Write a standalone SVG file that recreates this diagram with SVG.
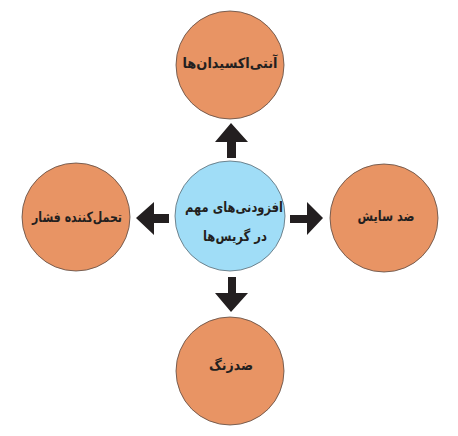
<svg xmlns="http://www.w3.org/2000/svg" width="458" height="436" viewBox="0 0 458 436">
<style>
.o{fill:#E89464;stroke:#5a4a42;stroke-width:0.8}
.b{fill:#A0DDF7;stroke:#5a6a72;stroke-width:0.8}
text{font-family:"DejaVu Sans","Noto Sans",sans-serif;font-weight:bold;font-size:14px;fill:#231f20;text-anchor:middle;direction:rtl}
.a{fill:#231f20}
</style>
<rect width="458" height="436" fill="#fff"/>
<g id="connectors">
<polygon class="a" points="231,123 248,142 236,142 236,158 227,158 227,142 215,142"/>
<polygon class="a" points="136,218 154,202 154,214 169,214 169,223 154,223 154,235"/>
<polygon class="a" points="323,218 307,202 307,215 290,215 290,223 307,223 307,235"/>
<polygon class="a" points="231,312 248,293 236,293 236,277 228,277 228,293 215,293"/>
</g>
<g id="center">
<circle class="b" cx="230" cy="216" r="55"/>
<text x="234" y="212" textLength="98" lengthAdjust="spacingAndGlyphs">افزودنی‌های مهم</text>
<text x="235" y="241" textLength="64" lengthAdjust="spacingAndGlyphs">در گریس‌ها</text>
</g>
<g id="top">
<circle class="o" cx="230" cy="65" r="54"/>
<text x="230" y="68" textLength="95" lengthAdjust="spacingAndGlyphs">آنتی‌اکسیدان‌ها</text>
</g>
<g id="left">
<circle class="o" cx="76" cy="217" r="54"/>
<text x="77" y="222" textLength="90" lengthAdjust="spacingAndGlyphs">تحمل‌کننده فشار</text>
</g>
<g id="right">
<circle class="o" cx="384" cy="218" r="54"/>
<text x="386" y="221" textLength="57" lengthAdjust="spacingAndGlyphs">ضد سایش</text>
</g>
<g id="bottom">
<circle class="o" cx="230" cy="371" r="54"/>
<text x="231" y="370" textLength="44" lengthAdjust="spacingAndGlyphs">ضدزنگ</text>
</g>
</svg>
